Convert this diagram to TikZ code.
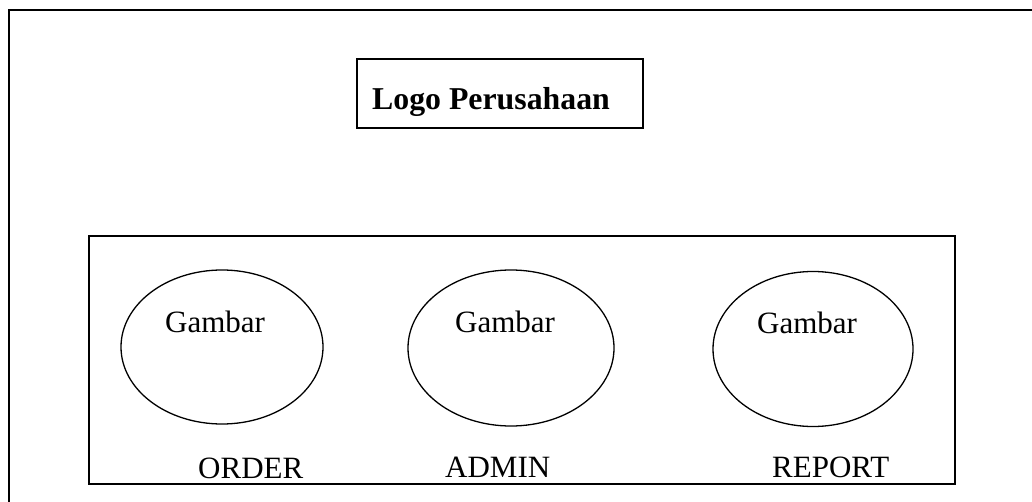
\documentclass[tikz,border=0pt]{standalone}
\usepackage{fontspec}
\setmainfont{Liberation Serif}
\usetikzlibrary{shapes.geometric}
\begin{document}
\begin{tikzpicture}[x=1pt,y=-1pt,
  frame/.style={draw=black,line width=1.5pt},
  menuoval/.style={draw=black,line width=1.3pt,ellipse,inner sep=0pt},
  label/.style={inner sep=0pt,anchor=base west,font=\fontsize{31}{37}\selectfont}]
  \clip (0,0) rectangle (1032,502);
  \useasboundingbox (0,0) rectangle (1032,502);
  \fill[white] (0,0) rectangle (1032,502);
  % page frame, running off the right and bottom edges
  \draw[line width=1.8pt] (9,520) -- (9,10) -- (1050,10);
  % company logo box
  \node[frame,rectangle,minimum width=286pt,minimum height=69pt,inner sep=0pt] (logo) at (500,93.5) {};
  \node[label,font=\fontsize{31.8}{38}\selectfont\bfseries] (logotext) at (372,110) {Logo Perusahaan};
  % menu panel
  \node[frame,rectangle,minimum width=866pt,minimum height=248pt,inner sep=0pt] (panel) at (522,360) {};
  % menu items
  \node[menuoval,minimum width=202pt,minimum height=154pt] (e1) at (222,347) {};
  \node[menuoval,minimum width=206pt,minimum height=156pt] (e2) at (511,348) {};
  \node[menuoval,minimum width=200pt,minimum height=155pt] (e3) at (813,349) {};
  \node[label] (g1) at (165,332) {Gambar};
  \node[label] (g2) at (455,332) {Gambar};
  \node[label] (g3) at (757,333) {Gambar};
  \node[label] (order) at (198,478) {ORDER};
  \node[label] (admin) at (445,477) {ADMIN};
  \node[label] (report) at (772,477) {REPORT};
\end{tikzpicture}
\end{document}
